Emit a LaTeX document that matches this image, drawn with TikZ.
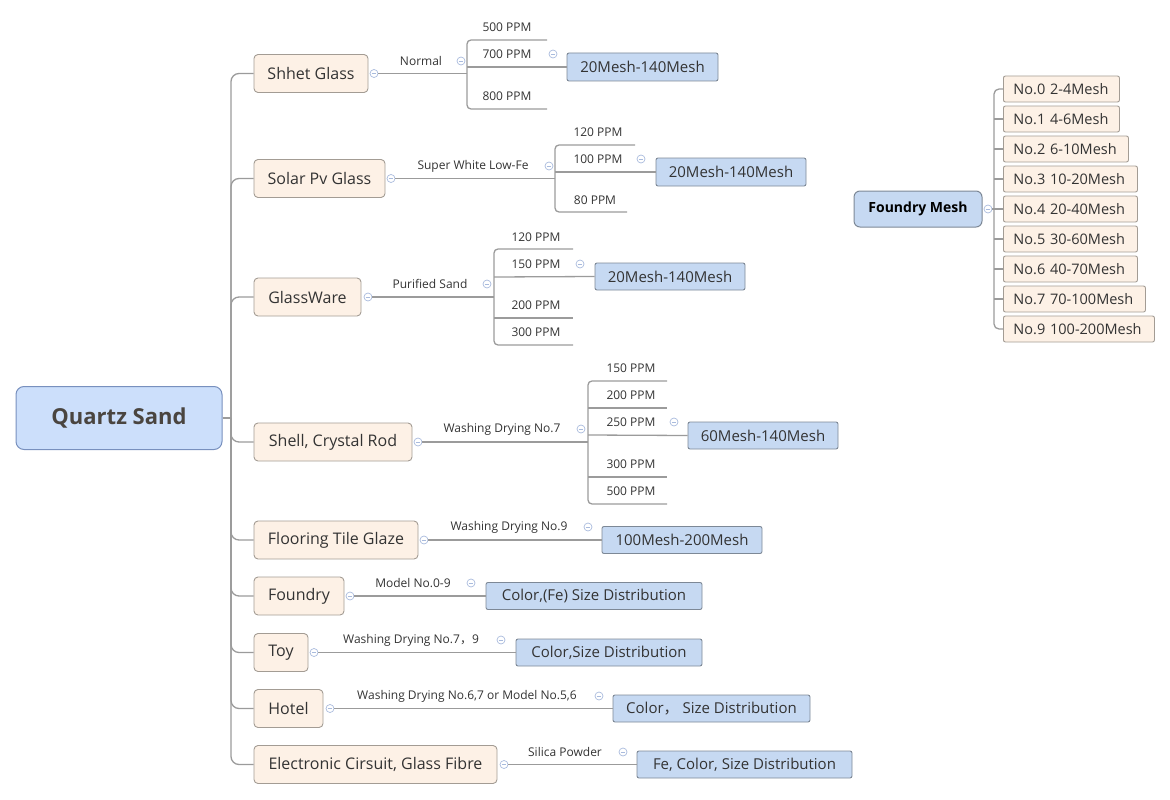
\documentclass[tikz,border=0pt]{standalone}
\usepackage{fontspec}
\setmainfont{Open Sans}
\newfontfamily\cjk{Noto Sans CJK SC}
\definecolor{peach}{HTML}{FDF1E6}
\definecolor{peachline}{HTML}{A39C94}
\definecolor{meshfill}{HTML}{C6D9F2}
\definecolor{meshline}{HTML}{7D8896}
\definecolor{rootfill}{HTML}{CCDFFB}
\definecolor{rootline}{HTML}{7890BE}
\definecolor{linec}{HTML}{9B9B9B}
\definecolor{foldc}{HTML}{A9BBDD}
\definecolor{txt}{HTML}{333333}
\definecolor{roottxt}{HTML}{4A4540}
\begin{document}
\begin{tikzpicture}[x=1pt,y=-1pt,
  topic/.style={draw=peachline, fill=peach, rounded corners=4pt, line width=0.9pt, inner sep=0pt, minimum height=38pt, text=txt, font=\fontsize{16}{19}\selectfont},
  mesh/.style={draw=meshline, fill=meshfill, rounded corners=2pt, line width=0.9pt, inner sep=0pt, minimum height=27pt, text=txt, font=\fontsize{15}{18}\selectfont},
  fmitem/.style={draw=peachline, fill=peach, rounded corners=2pt, line width=0.9pt, inner ysep=0pt, inner xsep=10pt, minimum height=26pt, anchor=west, align=left, text=txt, font=\fontsize{14.5}{17}\selectfont},
  lbl/.style={inner sep=0pt, text=txt, font=\fontsize{12}{14}\selectfont},
  conn/.style={draw=linec, line width=1.3pt},
  fold/.style={circle, draw=foldc, fill=white, line width=0.7pt, minimum size=8pt, inner sep=0pt,
    path picture={\draw[foldc, line width=0.7pt] ([xshift=-2.2pt]path picture bounding box.center) -- ([xshift=2.2pt]path picture bounding box.center);}}
]
\useasboundingbox (0,0) rectangle (1170,800);

% ---------- root ----------
\node[draw=rootline, fill=rootfill, rounded corners=8pt, line width=1pt, minimum width=206pt, minimum height=63pt, inner sep=0pt, text=roottxt, font=\fontsize{22}{26}\selectfont\bfseries] (qs) at (119,418) {Quartz Sand};
\coordinate (sp) at (231,418);

% ---------- main topics ----------
\node[topic, minimum width=114pt] (sg) at (311,73.5) {Shhet Glass};
\node[topic, minimum width=131pt] (sv) at (319.5,178.5) {Solar Pv Glass};
\node[topic, minimum width=107pt] (gw) at (307.5,297) {GlassWare};
\node[topic, minimum width=158pt] (sc) at (333,442) {Shell, Crystal Rod};
\node[topic, minimum width=164pt] (ft) at (336,540) {Flooring Tile Glaze};
\node[topic, minimum width=90pt] (fd) at (299,596) {Foundry};
\node[topic, minimum width=54pt] (ty) at (281,652.5) {Toy};
\node[topic, minimum width=69pt] (ht) at (288.5,708.5) {Hotel};
\node[topic, minimum width=243pt] (el) at (375.5,764.5) {Electronic Cirsuit, Glass Fibre};

\draw[conn] (qs.east) -- (sp);
\foreach \c in {sg,sv,gw,sc,ft,fd,ty,ht,el}
  \draw[conn, rounded corners=8pt] (sp) |- (\c.west);

% ---------- Shhet Glass ----------
\node[fold] (sgf) at (374,73.5) {};
\node[lbl] (sgl) at (421,61) {Normal};
\node[fold] (sglf) at (461,61) {};
\coordinate (sgj) at (467,73.5);
\coordinate (sga) at (547,40);
\coordinate (sgc) at (547,109);
\coordinate (sgb) at (467,67);
\node[mesh, minimum width=151pt, minimum height=28pt] (sgm) at (642.5,67) {20Mesh-140Mesh};
\node[lbl] (sg1) at (507,27) {500 PPM};
\node[lbl] (sg2) at (507,54) {700 PPM};
\node[lbl] (sg3) at (507,96) {800 PPM};
\node[fold] (sg2f) at (553,54) {};
\draw[conn] (sgf.east) -- (sgj);
\draw[conn, rounded corners=4pt] (sga) -| (sgj) |- (sgc);
\draw[conn] (sgb) -- (sgm.west);

% ---------- Solar Pv Glass ----------
\node[fold] (svf) at (391,178.5) {};
\node[lbl] (svl) at (473,166) {Super White Low-Fe};
\node[fold] (svlf) at (549,166) {};
\coordinate (svj) at (555,178.5);
\coordinate (sva) at (635,145);
\coordinate (svc) at (627,212);
\coordinate (svb) at (555,172);
\node[mesh, minimum width=150pt, minimum height=28pt] (svm) at (731,172) {20Mesh-140Mesh};
\node[lbl] (sv1) at (598,132) {120 PPM};
\node[lbl] (sv2) at (598,159) {100 PPM};
\node[lbl] (sv3) at (595,200) {80 PPM};
\node[fold] (sv2f) at (641,159) {};
\draw[conn] (svf.east) -- (svj);
\draw[conn, rounded corners=4pt] (sva) -| (svj) |- (svc);
\draw[conn] (svb) -- (svm.west);

% ---------- GlassWare ----------
\node[fold] (gwf) at (368,297) {};
\node[lbl] (gwl) at (430,284) {Purified Sand};
\node[fold] (gwlf) at (487,284) {};
\coordinate (gwj) at (494,297);
\coordinate (gwa) at (573,249);
\coordinate (gwb) at (494,277);
\coordinate (gwc) at (573,318);
\coordinate (gwc2) at (494,318);
\coordinate (gwd) at (573,345);
\node[mesh, minimum width=150pt] (gwm) at (670,276.5) {20Mesh-140Mesh};
\node[lbl] (gw1) at (536,237) {120 PPM};
\node[lbl] (gw2) at (536,264) {150 PPM};
\node[lbl] (gw3) at (536,305) {200 PPM};
\node[lbl] (gw4) at (536,332) {300 PPM};
\node[fold] (gw2f) at (580,264) {};
\draw[conn] (gwf.east) -- (gwj);
\draw[conn, rounded corners=4pt] (gwa) -| (gwj) |- (gwd);
\draw[conn] (gwb) -- (gwm.west);
\draw[conn] (gwc2) -- (gwc);

% ---------- Shell, Crystal Rod ----------
\node[fold] (scf) at (418,442) {};
\node[lbl] (scl) at (502,429) {Washing Drying No.7};
\node[fold] (sclf) at (581,429) {};
\coordinate (scj) at (588,442);
\coordinate (sca) at (667,381);
\coordinate (scb2) at (588,408);
\coordinate (scb) at (667,408);
\coordinate (scm0) at (588,435);
\coordinate (scd2) at (588,477);
\coordinate (scd) at (667,477);
\coordinate (sce) at (667,504);
\node[mesh, minimum width=150pt] (scm) at (763,435.5) {60Mesh-140Mesh};
\node[lbl] (sc1) at (631,368) {150 PPM};
\node[lbl] (sc2) at (631,395) {200 PPM};
\node[lbl] (sc3) at (631,422) {250 PPM};
\node[lbl] (sc4) at (631,464) {300 PPM};
\node[lbl] (sc5) at (631,491) {500 PPM};
\node[fold] (sc3f) at (674,422) {};
\draw[conn] (scf.east) -- (scj);
\draw[conn, rounded corners=4pt] (sca) -| (scj) |- (sce);
\draw[conn] (scb2) -- (scb);
\draw[conn] (scm0) -- (scm.west);
\draw[conn] (scd2) -- (scd);

% ---------- Flooring Tile Glaze ----------
\node[fold] (ftf) at (424,540) {};
\node[lbl] (ftl) at (509,527) {Washing Drying No.9};
\node[fold] (ftlf) at (588,527) {};
\node[mesh, minimum width=160pt] (ftm) at (682,540) {100Mesh-200Mesh};
\draw[conn] (ftf.east) -- (ftm.west);

% ---------- Foundry ----------
\node[fold] (fdf) at (350,596) {};
\node[lbl] (fdl) at (413,583) {Model No.0-9};
\node[fold] (fdlf) at (471,583) {};
\node[mesh, minimum width=216pt] (fdm) at (594,596) {Color,(Fe) Size Distribution};
\draw[conn] (fdf.east) -- (fdm.west);

% ---------- Toy ----------
\node[fold] (tyf) at (314,652.5) {};
\node[lbl] (tyl) at (411,640) {Washing Drying No.7{\cjk ，}9};
\node[fold] (tylf) at (501,640) {};
\node[mesh, minimum width=186pt] (tym) at (609,652.5) {Color,Size Distribution};
\draw[conn] (tyf.east) -- (tym.west);

% ---------- Hotel ----------
\node[fold] (htf) at (330,708.5) {};
\node[lbl] (htl) at (467,696) {Washing Drying No.6,7 or Model No.5,6};
\node[fold] (htlf) at (599,696) {};
\node[mesh, minimum width=197pt] (htm) at (711.5,708.5) {Color{\cjk ，} Size Distribution};
\draw[conn] (htf.east) -- (htm.west);

% ---------- Electronic ----------
\node[fold] (elf) at (504,764.5) {};
\node[lbl] (ell) at (565,752) {Silica Powder};
\node[fold] (ellf) at (623,752) {};
\node[mesh, minimum width=215pt] (elm) at (744.5,764.5) {Fe, Color, Size Distribution};
\draw[conn] (elf.east) -- (elm.west);

% ---------- Foundry Mesh ----------
\node[draw=meshline, fill=meshfill, rounded corners=6pt, line width=1pt, minimum width=128pt, minimum height=36pt, inner sep=0pt, text=black, font=\fontsize{14}{17}\selectfont\bfseries] (fm) at (918,209) {Foundry Mesh};
\node[fold] (fmf) at (988,209) {};
\coordinate (fmj) at (994,209);
\node[fmitem, text width=96pt] (f0) at (1003,89) {No.0 2-4Mesh};
\node[fmitem, text width=96pt] (f1) at (1003,119) {No.1 4-6Mesh};
\node[fmitem, text width=105pt] (f2) at (1003,149) {No.2 6-10Mesh};
\node[fmitem, text width=114pt] (f3) at (1003,179) {No.3 10-20Mesh};
\node[fmitem, text width=114pt] (f4) at (1003,209) {No.4 20-40Mesh};
\node[fmitem, text width=114pt] (f5) at (1003,239) {No.5 30-60Mesh};
\node[fmitem, text width=114pt] (f6) at (1003,269) {No.6 40-70Mesh};
\node[fmitem, text width=122pt] (f7) at (1003,299) {No.7 70-100Mesh};
\node[fmitem, text width=131pt] (f9) at (1003,329) {No.9 100-200Mesh};
\draw[conn] (fmf.east) -- (fmj);
\draw[conn, rounded corners=5pt] (f0.west) -| (fmj) |- (f9.west);
\foreach \c in {f1,f2,f3,f4,f5,f6,f7}
  \draw[conn] (fmj |- \c.west) -- (\c.west);
\end{tikzpicture}
\end{document}
